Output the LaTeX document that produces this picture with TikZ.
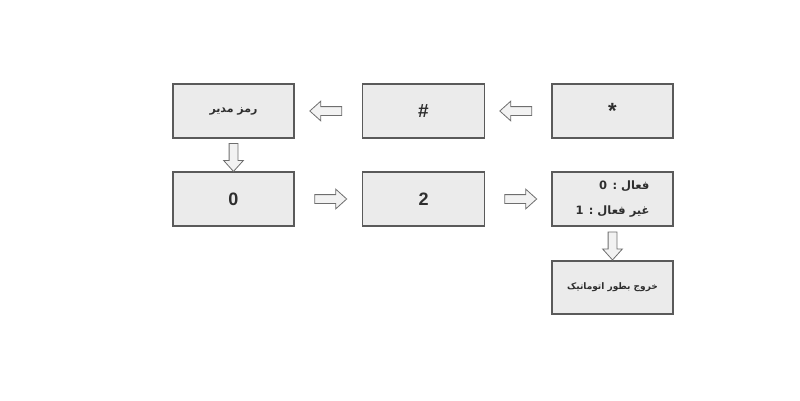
\documentclass[tikz,border=0pt]{standalone}
\usepackage{fontspec}
\setmainfont{Liberation Sans}
\newfontfamily\arfont[Script=Arabic]{DejaVu Sans}
\TeXXeTstate=1
\usetikzlibrary{shapes.arrows,calc}
\definecolor{boxfill}{HTML}{EBEBEB}
\definecolor{boxline}{HTML}{5A5A5A}
\definecolor{arrfill}{HTML}{F2F2F2}
\definecolor{arrline}{HTML}{6E6E6E}
\definecolor{txt}{HTML}{2E2E2E}
\begin{document}
\begin{tikzpicture}[x=1pt,y=-1pt,
  stepbox/.style={draw=boxline,fill=boxfill,line width=1.1pt,minimum width=121pt,minimum height=54pt,inner sep=0pt,text=txt,font=\bfseries\fontsize{18}{20}\selectfont},
  arbox/.style={stepbox,font=\arfont\bfseries\fontsize{9}{11}\selectfont},
  harrow/.style={single arrow,draw=arrline,fill=arrfill,line width=0.8pt,minimum height=32pt,inner sep=4pt,single arrow head extend=5.5pt,single arrow tip angle=84},
  varrow/.style={harrow,minimum height=28pt,shape border rotate=270}
]
\useasboundingbox (0,0) rectangle (800,400);
\node[stepbox,font=\bfseries\fontsize{22}{24}\selectfont] (b1) at (612.5,111) {*};
\node[stepbox,minimum width=122pt,font=\bfseries\fontsize{19}{21}\selectfont] (b2) at (423.5,111) {\#};
\node[arbox,font=\arfont\bfseries\fontsize{11}{13}\selectfont] (b3) at (233.5,111) {\beginR رمز مدیر\endR};
\node[stepbox] (b4) at (233.5,199) {0};
\node[stepbox,minimum width=122pt] (b5) at (423.5,199) {2};
\node[arbox,align=right,font=\arfont\bfseries\fontsize{11.5}{25}\selectfont] (b6) at (612.5,199) {\beginR فعال : 0\endR\\\beginR غیر فعال : 1\endR};
\node[arbox,minimum height=53pt] (b7) at (612.5,287.5) {\beginR خروج بطور اتوماتیک\endR};
\node[harrow,shape border rotate=180] (a1) at ($(b1.west)!0.5!(b2.east)$) {};
\node[harrow,shape border rotate=180] (a2) at ($(b2.west)!0.5!(b3.east)$) {};
\node[varrow] (a3) at ($(b3.south)!0.5!(b4.north)$) {};
\node[harrow] (a4) at ($(b4.east)!0.5!(b5.west)$) {};
\node[harrow] (a5) at ($(b5.east)!0.5!(b6.west)$) {};
\node[varrow] (a6) at ($(b6.south)!0.5!(b7.north)$) {};
\end{tikzpicture}
\end{document}
